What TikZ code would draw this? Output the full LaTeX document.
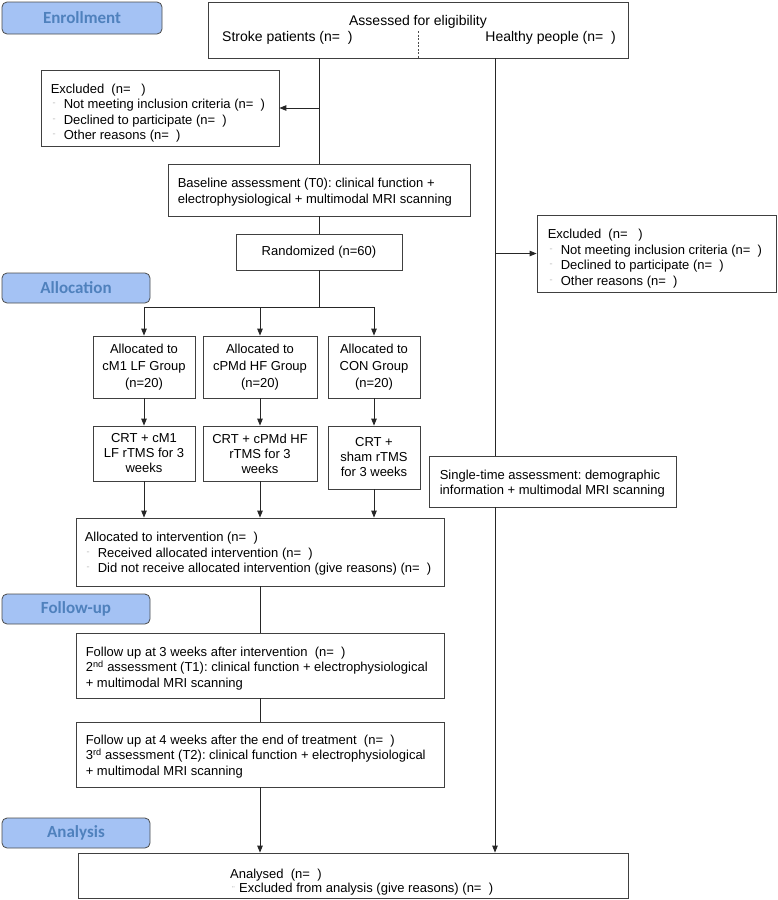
\documentclass[tikz,border=0pt]{standalone}
\usepackage{fontspec}
\setmainfont{Liberation Sans}
\newfontfamily\tagfont{Carlito}
\usetikzlibrary{arrows.meta}
\frenchspacing
\definecolor{tagfill}{HTML}{A4C2F4}
\definecolor{tagtext}{HTML}{4F81BD}
\newcommand{\itm}{\hspace*{2pt}\makebox[11pt][l]{\textcolor{black!50}{\footnotesize ¨}}}

\tikzset{
  box/.style={draw=black!75, line width=.8pt, inner sep=0pt},
  txt/.style={inner sep=0pt, anchor=west, yshift=-2pt, align=left, font=\fontsize{13}{15.5}\selectfont},
  grp/.style={box, align=center, font=\fontsize{13}{15}\selectfont},
  tag/.style={draw=black!70, line width=.8pt, rounded corners=5pt, fill=tagfill, text=tagtext, font=\tagfont\bfseries\fontsize{17}{20}\selectfont},
  arr/.style={-{Triangle[length=7pt,width=5.5pt]}},
  link/.style={line width=.9pt, black!85}
}

\begin{document}
\begin{tikzpicture}[x=1pt,y=-1pt]
            \useasboundingbox (0,0) rectangle (777,900);
            % stage tags
            \node[tag, minimum width=160, minimum height=32] (enroll) at (82,18) {Enrollment};
            \node[tag, minimum width=148, minimum height=30] (alloc) at (76,288) {Allocation};
            \node[tag, minimum width=148, minimum height=30] (follow) at (76,609) {Follow-up};
            \node[tag, minimum width=148, minimum height=30] (analysis) at (76,833) {Analysis};

            % eligibility
            \node[box, minimum width=420, minimum height=56] (assess) at (418,30) {};
            \node[font=\fontsize{14}{16}\selectfont, inner sep=0pt] (assesstitle) at (418,22) {Assessed for eligibility};
            \node[font=\fontsize{14}{16}\selectfont, inner sep=0pt, anchor=west] (stroke) at (222,38) {Stroke patients (n=~~)};
            \node[font=\fontsize{14}{16}\selectfont, inner sep=0pt, anchor=east] (healthy) at (616,38) {Healthy people (n=~~)};
            \coordinate (divtop) at (418,31);
            \draw[black!70, line width=.6pt, dash pattern=on 2pt off 1.5pt] (divtop) -- (divtop |- assess.south);

            \node[box, minimum width=238, minimum height=76] (excla) at (160,108) {};
            \node[txt] (exclatxt) at ([xshift=10pt,yshift=-3pt]excla.west)
              {Excluded~~(n=~~~)\\\itm Not meeting inclusion criteria (n=~~)\\\itm Declined to participate (n=~~)\\\itm Other reasons (n=~~)};
            \node[box, minimum width=302, minimum height=52] (base) at (319,190) {};
            \node[txt] (basetxt) at ([xshift=10pt]base.west)
              {Baseline assessment (T0): clinical function +\\electrophysiological + multimodal MRI scanning};
            \node[box, font=\fontsize{13}{15.5}\selectfont, minimum width=166, minimum height=36] (rand) at (319,252) {Randomized (n=60)};

            \node[box, minimum width=239, minimum height=77] (exclb) at (656.5,253.5) {};
            \node[txt] (exclbtxt) at ([xshift=11pt,yshift=-3pt]exclb.west)
              {Excluded~~(n=~~~)\\\itm Not meeting inclusion criteria (n=~~)\\\itm Declined to participate (n=~~)\\\itm Other reasons (n=~~)};
            \node[box, minimum width=247, minimum height=51] (single) at (552.5,481.5) {};
            \node[txt] (singletxt) at ([xshift=11pt]single.west)
              {Single-time assessment: demographic\\information + multimodal MRI scanning};

            \node[box, minimum width=368, minimum height=68] (interv) at (260,552) {};
            \node[txt] (intervtxt) at ([xshift=9pt]interv.west)
              {Allocated to intervention (n=~~)\\\itm Received allocated intervention (n=~~)\\\itm Did not receive allocated intervention (give reasons) (n=~~)};
            \node[box, minimum width=368, minimum height=65] (fua) at (260,665.5) {};
            \node[txt] (fuatxt) at ([xshift=10pt,yshift=-1pt]fua.west)
              {Follow up at 3 weeks after intervention~~(n=~~)\\2\textsuperscript{nd} assessment (T1): clinical function + electrophysiological\\+ multimodal MRI scanning};
            \node[box, minimum width=368, minimum height=65] (fub) at (260,754.5) {};
            \node[txt] (fubtxt) at ([xshift=10pt]fub.west)
              {Follow up at 4 weeks after the end of treatment~~(n=~~)\\3\textsuperscript{rd} assessment (T2): clinical function + electrophysiological\\+ multimodal MRI scanning};
            \node[box, minimum width=550, minimum height=45] (analysed) at (353,875.5) {};
            \node[txt, font=\fontsize{13}{14.5}\selectfont] (analysedtxt) at (230,880)
              {Analysed~~(n=~~)\\\hspace*{2pt}\makebox[7pt][l]{\textcolor{black!50}{\footnotesize ¨}}Excluded from analysis (give reasons) (n=~~)};

            % stroke branch
            \coordinate (split) at (319,307);
            \draw[link] (base.north |- assess.south) -- (base.north);
            \draw[link,arr] (excla.east -| base.north) -- (excla.east);
            \draw[link] (base) -- (rand);
            \draw[link] (rand.south) -- (split);

            \foreach \n/\x/\w/\th/\ty/\ga/\gb in {
              1/144/102/55/453.5/{Allocated to\\cM1 LF Group\\(n=20)}/{CRT + cM1\\LF rTMS for 3\\weeks},
              2/260/114/55/453.5/{Allocated to\\cPMd HF Group\\(n=20)}/{CRT + cPMd HF\\rTMS for 3\\weeks},
              3/374/92/63/457.5/{Allocated to\\CON Group\\(n=20)}/{CRT +\\sham rTMS\\for 3 weeks}} {
            \node[grp, font=\fontsize{13}{17}\selectfont, minimum width=\w, minimum height=62] (g\n) at (\x,367) {\ga};
            \node[grp, minimum width=\w, minimum height=\th] (t\n) at (\x,\ty) {\gb};
            \draw[link,arr] (g\n.north |- split) -- (g\n.north);
            \draw[link,arr] (g\n) -- (t\n);
            \draw[link,arr] (t\n.south) -- (t\n.south |- interv.north);}
            \draw[link] (g1.north |- split) -- (g3.north |- split);

            \draw[link] (interv) -- (fua);
            \draw[link] (fua) -- (fub);
            \draw[link,arr] (fub.south) -- (fub.south |- analysed.north);

            % healthy branch
            \coordinate (hx) at (495,58);
            \draw[link] (hx) -- (hx |- single.north);
            \draw[link,arr] (hx |- exclb.west) -- (exclb.west);
            \draw[link,arr] (hx |- single.south) -- (hx |- analysed.north);
\end{tikzpicture}
\end{document}
